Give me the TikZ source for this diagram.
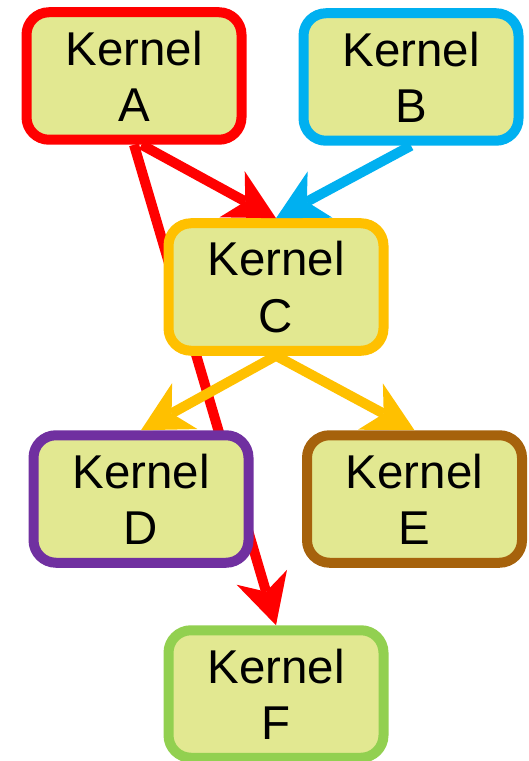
\documentclass[tikz,border=0pt]{standalone}
\usepackage{fontspec}
\setmainfont{Liberation Sans}
\usetikzlibrary{arrows.meta,backgrounds}
\definecolor{kfill}{RGB}{226,232,145}
\definecolor{kred}{RGB}{255,0,0}
\definecolor{kblue}{RGB}{0,176,240}
\definecolor{kyellow}{RGB}{255,192,0}
\definecolor{kpurple}{RGB}{112,48,160}
\definecolor{kbrown}{RGB}{166,98,12}
\definecolor{kgreen}{RGB}{146,208,80}

\begin{document}
\begin{tikzpicture}[
  kernel/.style={draw=#1, fill=kfill, line width=0.2cm, rounded corners=0.45cm,
    minimum width=4.3cm, minimum height=2.55cm, inner sep=0pt, align=center,
    font=\fontsize{27}{32}\selectfont},
  dep/.style={draw=#1, line width=0.2cm,
    -{Stealth[length=1cm, width=1.05cm, inset=0.3cm, line width=0pt]}}
]
\useasboundingbox (0,0) rectangle (10.56,-15.22);
% kernels
\node[kernel=kred] (A) at (2.68,-1.52) {Kernel\\A};
\node[kernel=kblue] (B) at (8.22,-1.54) {Kernel\\B};
\node[kernel=kyellow] (C) at (5.52,-5.74) {Kernel\\C};
\node[kernel=kpurple] (D) at (2.82,-9.98) {Kernel\\D};
\node[kernel=kbrown] (E) at (8.29,-9.98) {Kernel\\E};
\node[kernel=kgreen] (F) at (5.52,-13.88) {Kernel\\F};
% dependencies (A->F runs under C and D)
\begin{scope}[on background layer]
\draw[dep=kred] (A.south) -- (F.north);
\end{scope}
\draw[dep=kred] ([xshift=0.15cm]A.south) -- (C.north);
\draw[dep=kblue] (B.south) -- (C.north);
\draw[dep=kyellow] (C.south) -- (D.north);
\draw[dep=kyellow] (C.south) -- (E.north);
\end{tikzpicture}
\end{document}
